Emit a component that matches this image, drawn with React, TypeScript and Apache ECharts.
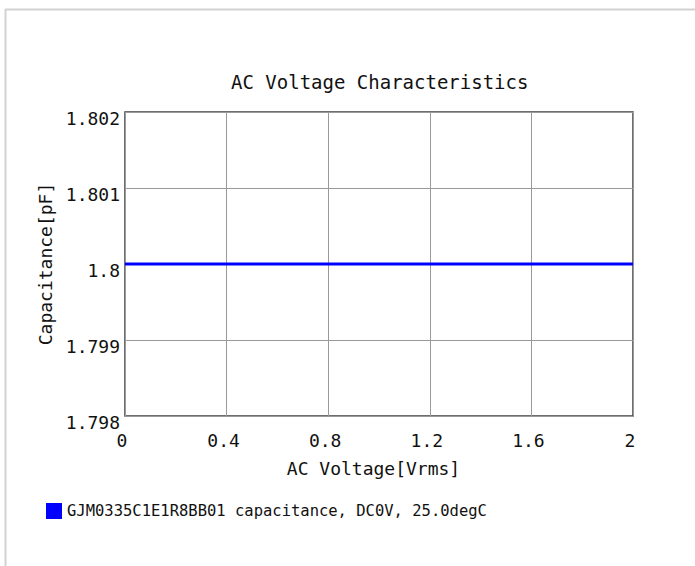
import React, { useEffect, useRef } from "react";
import * as echarts from "echarts";

const titleText = "AC Voltage Characteristics";
const xAxisName = "AC Voltage[Vrms]";
const yAxisName = "Capacitance[pF]";
const seriesName = "GJM0335C1E1R8BB01 capacitance, DC0V, 25.0degC";
const voltages = [0, 0.2, 0.4, 0.6, 0.8, 1.0, 1.2, 1.4, 1.6, 1.8, 2.0];
const capacitance = [1.8, 1.8, 1.8, 1.8, 1.8, 1.8, 1.8, 1.8, 1.8, 1.8, 1.8];
const xMin = 0, xMax = 2, xStep = 0.4;
const yMin = 1.798, yMax = 1.802, yStep = 0.001;

const FONT = "'DejaVu Sans Mono', monospace";

export default function App() {
  const ref = useRef<HTMLDivElement>(null);
  useEffect(() => {
    if (!ref.current) return;
    const chart = echarts.init(ref.current, null, { renderer: "svg" });
    const data = voltages.map((v, i) => [v, capacitance[i]]);
    chart.setOption({
      animation: false,
      backgroundColor: "#ffffff",
      textStyle: { fontFamily: FONT },
      title: {
        text: titleText,
        left: 226,
        top: 67,
        textStyle: { fontFamily: FONT, fontSize: 19, fontWeight: "normal", color: "#111" },
      },
      graphic: [
        { type: "line", shape: { x1: 5, y1: 9.5, x2: 695, y2: 9.5 }, style: { stroke: "#d2d2d2", lineWidth: 2 } },
        { type: "line", shape: { x1: 5.5, y1: 9, x2: 5.5, y2: 566 }, style: { stroke: "#d2d2d2", lineWidth: 2 } },
      ],
      legend: {
        left: 41,
        top: 498,
        icon: "rect",
        itemWidth: 16,
        itemHeight: 16,
        textStyle: { fontFamily: FONT, fontSize: 15.5, color: "#111" },
        data: [seriesName],
      },
      grid: {
        left: 125,
        top: 112,
        width: 508,
        height: 304,
        show: true,
        borderColor: "#404040",
        borderWidth: 1.5,
        containLabel: false,
      },
      xAxis: {
        type: "value",
        min: xMin,
        max: xMax,
        interval: xStep,
        name: xAxisName,
        nameLocation: "middle",
        nameGap: 43,
        nameTextStyle: { fontFamily: FONT, fontSize: 18, color: "#111", padding: [0, 11, 0, 0] },
        axisLine: { show: false },
        axisTick: { show: false },
        splitLine: { show: true, lineStyle: { color: "#999", width: 1 } },
        axisLabel: {
          fontFamily: FONT,
          fontSize: 18,
          color: "#111",
          margin: 15,
          padding: [0, 6, 0, 0],
          formatter: (v: number) => String(Number(v.toFixed(1))),
        },
      },
      yAxis: {
        type: "value",
        min: yMin,
        max: yMax,
        interval: yStep,
        name: yAxisName,
        nameLocation: "middle",
        nameGap: 66,
        nameTextStyle: { fontFamily: FONT, fontSize: 18, color: "#111" },
        axisLine: { show: false },
        axisTick: { show: false },
        splitLine: { show: true, lineStyle: { color: "#999", width: 1 } },
        axisLabel: {
          fontFamily: FONT,
          fontSize: 18,
          color: "#111",
          margin: 5,
          verticalAlign: "top",
          lineHeight: 12,
          formatter: (v: number) => String(Number(v.toFixed(3))),
        },
      },
      series: [
        {
          name: seriesName,
          type: "line",
          data,
          showSymbol: false,
          itemStyle: { color: "#0000ff" },
          lineStyle: { color: "#0000ff", width: 3 },
        },
      ],
    });
    return () => chart.dispose();
  }, []);
  return <div ref={ref} style={{ position: "fixed", left: 0, top: 0, width: 695, height: 566 }} />;
}
